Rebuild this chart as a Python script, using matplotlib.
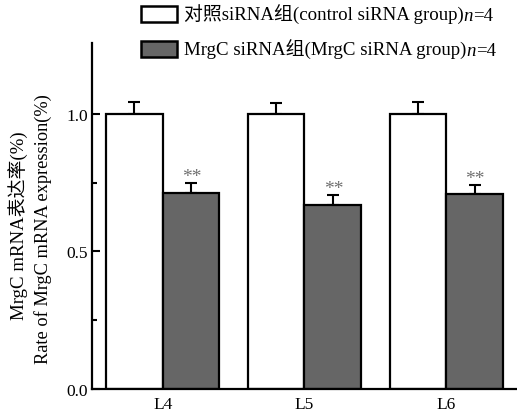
import matplotlib
matplotlib.use("Agg")
import matplotlib.pyplot as plt
import matplotlib.transforms as mtransforms
import numpy as np
from matplotlib.offsetbox import TextArea, HPacker, VPacker, DrawingArea, AnchoredOffsetbox
from matplotlib.patches import Rectangle

# ---- data ----
categories = ["L4", "L5", "L6"]
control_vals = [1.0, 1.0, 1.0]
control_err = [0.045, 0.04, 0.042]
mrgc_vals = [0.713, 0.669, 0.708]
mrgc_err = [0.037, 0.037, 0.035]
sig_labels = ["**", "**", "**"]
legend_labels = ["对照siRNA组(control siRNA group)", "MrgC siRNA组(MrgC siRNA group)"]
yticks = [0.0, 0.5, 1.0]
ylabel_cn = "MrgC mRNA表达率(%)"
ylabel_en = "Rate of MrgC mRNA expression(%)"

SERIF = ["Liberation Serif", "Noto Sans CJK SC", "DejaVu Sans"]
plt.rcParams["font.family"] = SERIF

fig = plt.figure(figsize=(5.17, 4.14), dpi=100)
ax = fig.add_axes([92/517, 1-390/414, 1-92/517, (390-44)/414])

x = np.arange(len(categories))
w = 0.4
grey = "#666666"
ax.bar(x - w/2, control_vals, w, color="white", edgecolor="black", linewidth=1.6, zorder=2)
ax.bar(x + w/2, mrgc_vals, w, color=grey, edgecolor="black", linewidth=1.6, zorder=2)
ax.errorbar(x - w/2, control_vals, yerr=[np.zeros(3), control_err], fmt="none",
            ecolor="black", elinewidth=1.5, capsize=4, capthick=1.5, zorder=1)
ax.errorbar(x + w/2, mrgc_vals, yerr=[np.zeros(3), mrgc_err], fmt="none",
            ecolor="black", elinewidth=1.5, capsize=4, capthick=1.5, zorder=1)
for xi, v, e, s in zip(x + w/2, mrgc_vals, mrgc_err, sig_labels):
    ax.annotate(s, (xi, v + e), xytext=(0.5, 1), textcoords="offset points",
                ha="center", va="baseline", fontsize=14, color="#707070",
                fontfamily="Liberation Serif")

ax.set_xlim(-0.5, 2.5)
ax.set_ylim(0, 1.258)
ax.set_yticks(yticks)
ax.set_yticklabels([f"{t:.1f}" for t in yticks])
ax.set_yticks([0.25, 0.75], minor=True)
ax.set_xticks(x)
ax.set_xticklabels(categories)
for lab in ax.get_xticklabels():
    lab.set_transform(lab.get_transform() + mtransforms.ScaledTranslation(0.05, 0, fig.dpi_scale_trans))
ax.tick_params(axis="x", length=0, pad=5, labelsize=12.5)
ax.tick_params(axis="y", which="major", direction="in", length=6, width=1.5, pad=3, labelsize=12.5)
ax.tick_params(axis="y", which="minor", direction="in", length=3.5, width=1.5)
for sp in ["top", "right"]:
    ax.spines[sp].set_visible(False)
for sp in ["left", "bottom"]:
    ax.spines[sp].set_linewidth(1.6)

fig.text(18/517, 1-226/414, ylabel_cn, rotation=90, ha="center", va="center", fontsize=13.6)
fig.text(43/517, 1-229/414, ylabel_en, rotation=90, ha="center", va="center", fontsize=13.2,
         fontfamily="Liberation Serif")

# ---- legend ----
rows = []
for lab, fc in zip(legend_labels, ["white", grey]):
    da = DrawingArea(26, 11.5, 0, 0)
    da.add_artist(Rectangle((0, 0), 26, 11.5, facecolor=fc, edgecolor="black", linewidth=1.8))
    t1 = TextArea(lab, textprops=dict(fontsize=13.6, family=SERIF))
    t2 = TextArea("n", textprops=dict(fontsize=13.6, family="Liberation Serif", style="italic"))
    t3 = TextArea("=4", textprops=dict(fontsize=13.6, family="Liberation Serif"))
    txt = HPacker(children=[t1, t2, t3], align="baseline", pad=0, sep=0)
    rows.append(HPacker(children=[da, txt], align="center", pad=0, sep=5))
leg = VPacker(children=rows, align="left", pad=0, sep=10.5)
ab = AnchoredOffsetbox(loc="upper left", child=leg, frameon=False, pad=0, borderpad=0,
                       bbox_to_anchor=(141/517, 1-5/414), bbox_transform=fig.transFigure)
fig.add_artist(ab)

fig.savefig("out.png", dpi=100)
